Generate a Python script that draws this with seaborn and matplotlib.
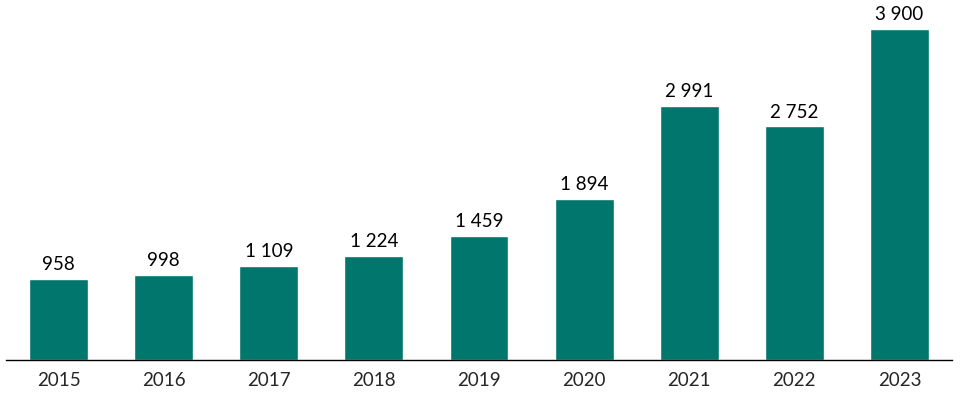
import matplotlib
matplotlib.use('Agg')
import matplotlib.pyplot as plt
import seaborn as sns
import pandas as pd

# data
years = ['2015', '2016', '2017', '2018', '2019', '2020', '2021', '2022', '2023']
values = [958, 998, 1109, 1224, 1459, 1894, 2991, 2752, 3900]

df = pd.DataFrame({'Year': years, 'Value': values})

sns.set_style('white')
plt.rcParams['font.family'] = ['Lato', 'DejaVu Sans']

fig = plt.figure(figsize=(9.71, 3.97), dpi=100)
ax = fig.add_axes([6 / 971, 37 / 397, 946 / 971, 360 / 397])

sns.barplot(data=df, x='Year', y='Value', color='#00766C', saturation=1,
            width=0.56, ax=ax)

ax.set_ylim(0, 4242)
ax.set_xlim(-0.5, len(years) - 0.5)

for i, v in enumerate(values):
    label = f'{v:,}'.replace(',', ' ')
    ax.text(i, v + 70, label, ha='center', va='bottom', fontsize=13.5, color='black')

for s in ['top', 'right', 'left']:
    ax.spines[s].set_visible(False)
ax.spines['bottom'].set_color('black')
ax.spines['bottom'].set_linewidth(1)
ax.set_yticks([])
ax.set_xlabel('')
ax.set_ylabel('')
ax.tick_params(axis='x', length=0, labelsize=13.5, pad=9)

fig.savefig('out.png', dpi=100)
